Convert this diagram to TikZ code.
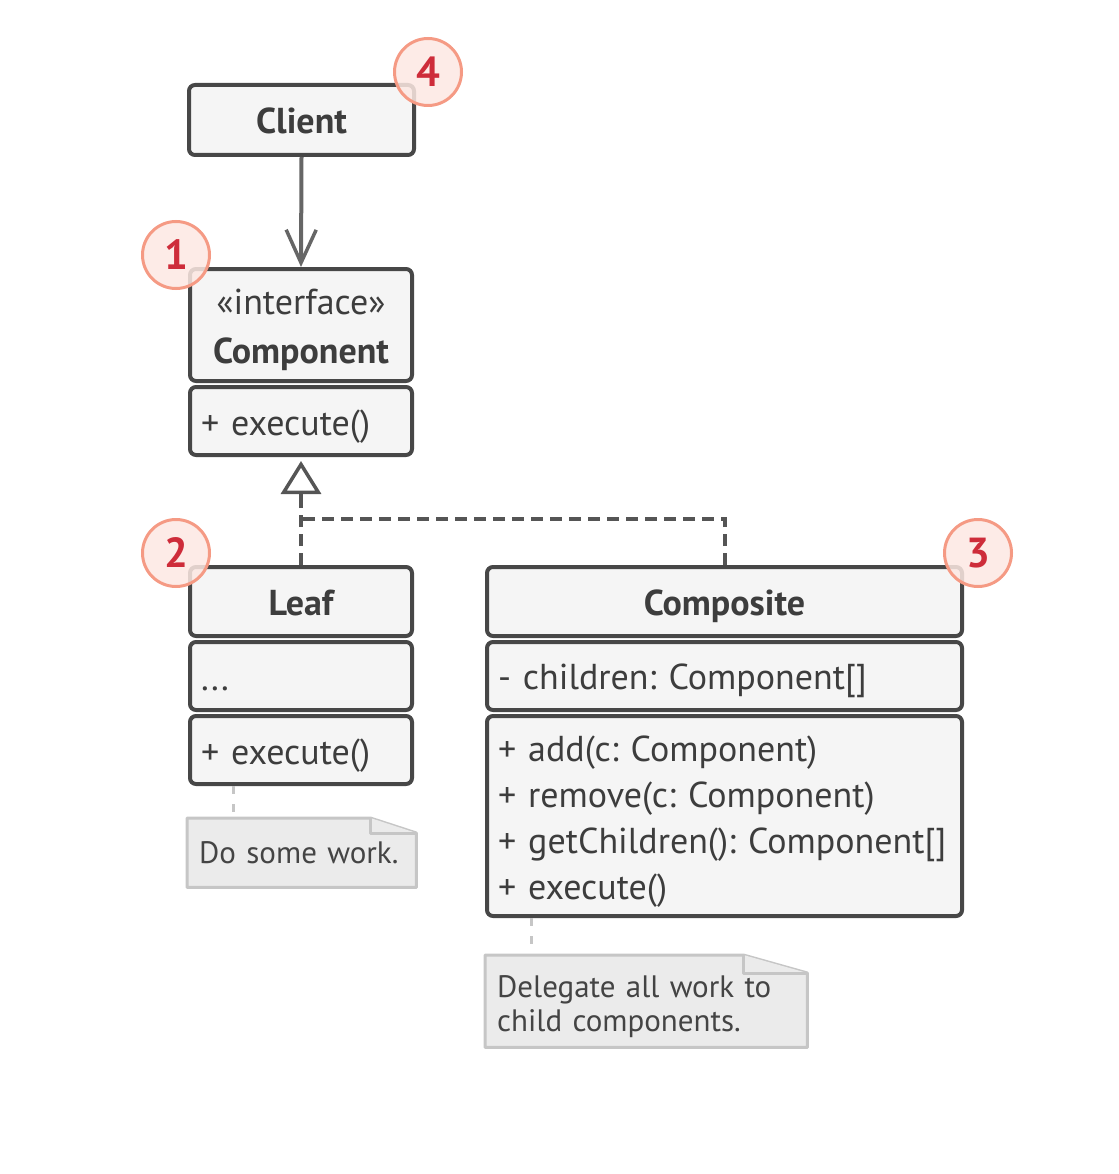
\documentclass[tikz,border=0pt]{standalone}
\usepackage{fontspec}
\setmainfont{PT Sans}
\usetikzlibrary{positioning, arrows.meta, calc, backgrounds}
\definecolor{boxBorder}{HTML}{474747}
\definecolor{boxFill}{HTML}{F5F5F5}
\definecolor{textDark}{HTML}{3D3D3D}
\definecolor{arrowGray}{HTML}{666666}
\definecolor{dashGray}{HTML}{555555}
\definecolor{noteFill}{HTML}{EBEBEB}
\definecolor{noteBorder}{HTML}{C6C6C6}
\definecolor{noteText}{HTML}{444444}
\definecolor{badgeFill}{HTML}{FDE8E3}
\definecolor{badgeBorder}{HTML}{F59A84}
\definecolor{badgeText}{HTML}{CE2C3A}
\frenchspacing
\hyphenpenalty=10000
\exhyphenpenalty=10000

\begin{document}
\begin{tikzpicture}[
    x=1pt, y=-1pt,
    node distance=2pt,
    box/.style={draw=boxBorder, fill=boxFill, line width=4pt, rounded corners=6pt, text=textDark, inner xsep=11pt, inner ysep=0pt, execute at begin node={\rule[-8pt]{0pt}{44pt}}},
    headbox/.style={box, font=\bfseries\fontsize{36}{46}\selectfont, align=center},
    membox/.style={box, font=\fontsize{36}{46}\selectfont, align=left},
    badge/.style={circle, draw=badgeBorder, fill=badgeFill, fill opacity=0.85, text opacity=1, line width=3pt, minimum size=67pt, inner sep=0pt, text=badgeText, font=\bfseries\fontsize{42}{42}\selectfont},
    note/.style={anchor=north west, inner xsep=12pt, inner ysep=0pt, text=noteText, font=\fontsize{31}{34}\selectfont, align=left},
    noteline/.style={draw=noteBorder, fill=noteFill, line width=3pt, line join=round},
    notelink/.style={draw=noteBorder, line width=3pt, dash pattern=on 8pt off 10pt},
    assoc/.style={draw=arrowGray, line width=4pt, -{Straight Barb[length=33pt, width=30pt, line width=3.5pt]}},
    realize/.style={draw=dashGray, line width=4pt, dash pattern=on 12pt off 7pt},
    generalize/.style={draw=dashGray, line width=3.5pt, shorten >=4pt, -{Triangle[open, length=33pt, width=40pt, line width=3.5pt]}}
]
    \useasboundingbox (0,0) rectangle (1118,1174);

    % client and interface
    \node[headbox, minimum width=225pt, minimum height=70pt, text width=203pt, anchor=north] (client) at (301.5,83) {Client};
    \node[headbox, minimum width=222pt, minimum height=112pt, text width=200pt, anchor=north] (compHead) at (301,267) {{\mdseries «interface»}\\[3pt]Component};
    \node[membox, minimum width=222pt, minimum height=68pt, text width=200pt, below=of compHead] (compMeth) {+ execute()};

    % leaf
    \node[headbox, minimum width=222pt, minimum height=69pt, text width=200pt, anchor=north] (leafHead) at (301,565) {Leaf};
    \node[membox, minimum width=222pt, minimum height=68pt, text width=200pt, below=of leafHead] (leafAttr) {...};
    \node[membox, minimum width=222pt, minimum height=68pt, text width=200pt, below=of leafAttr] (leafMeth) {+ execute()};

    % composite
    \node[headbox, minimum width=475pt, minimum height=69pt, text width=453pt, anchor=north] (compoHead) at (724.5,565) {Composite};
    \node[membox, minimum width=475pt, minimum height=68pt, text width=453pt, below=of compoHead] (compoAttr) {- children: Component[]};
    \node[membox, minimum width=475pt, minimum height=200pt, text width=453pt, below=of compoAttr] (compoMeth) {+ add(c: Component)\\+ remove(c: Component)\\+ getChildren(): Component[]\\+ execute()};

    % connectors
    \coordinate (inherit) at (301,497);
    \coordinate (split) at (301,519);
    \draw[assoc] (client.south) -- (compHead.north);
    \draw[realize] (leafHead.north) -- (inherit);
    \draw[realize] (compoHead.north) |- (split);
    \draw[generalize] (inherit) -- (compMeth.south);

    % notes
    \node[note, minimum width=229pt, minimum height=69pt, text width=205pt] (leafNote) at (187,818) {Do some work.};
    \node[note, minimum width=322pt, minimum height=92pt, text width=298pt] (compoNote) at (485,955) {\rule{0pt}{33pt}Delegate all work to\\child components.};
    \begin{scope}[on background layer]
        \draw[noteline] (leafNote.north west) -- ($(leafNote.north east)+(-46,0)$) -- ($(leafNote.north east)+(0,15)$) -- (leafNote.south east) -- (leafNote.south west) -- cycle;
        \draw[noteline] ($(leafNote.north east)+(-46,0)$) -- ++(0,15) -- ($(leafNote.north east)+(0,15)$);
        \draw[noteline] (compoNote.north west) -- ($(compoNote.north east)+(-64,0)$) -- ($(compoNote.north east)+(0,18)$) -- (compoNote.south east) -- (compoNote.south west) -- cycle;
        \draw[noteline] ($(compoNote.north east)+(-64,0)$) -- ++(0,18) -- ($(compoNote.north east)+(0,18)$);
    \end{scope}
    \coordinate (leafLink) at ($(leafNote.north west)+(46,0)$);
    \coordinate (compoLink) at ($(compoNote.north west)+(46,0)$);
    \draw[notelink] (leafMeth.south -| leafLink) -- (leafLink);
    \draw[notelink] (compoMeth.south -| compoLink) -- (compoLink);

    % badges
    \node[badge] (badgeClient) at (428,72) {4};
    \node[badge] (badgeComp) at (176,255) {1};
    \node[badge] (badgeLeaf) at (176,553) {2};
    \node[badge] (badgeCompo) at (978,553) {3};
\end{tikzpicture}
\end{document}
